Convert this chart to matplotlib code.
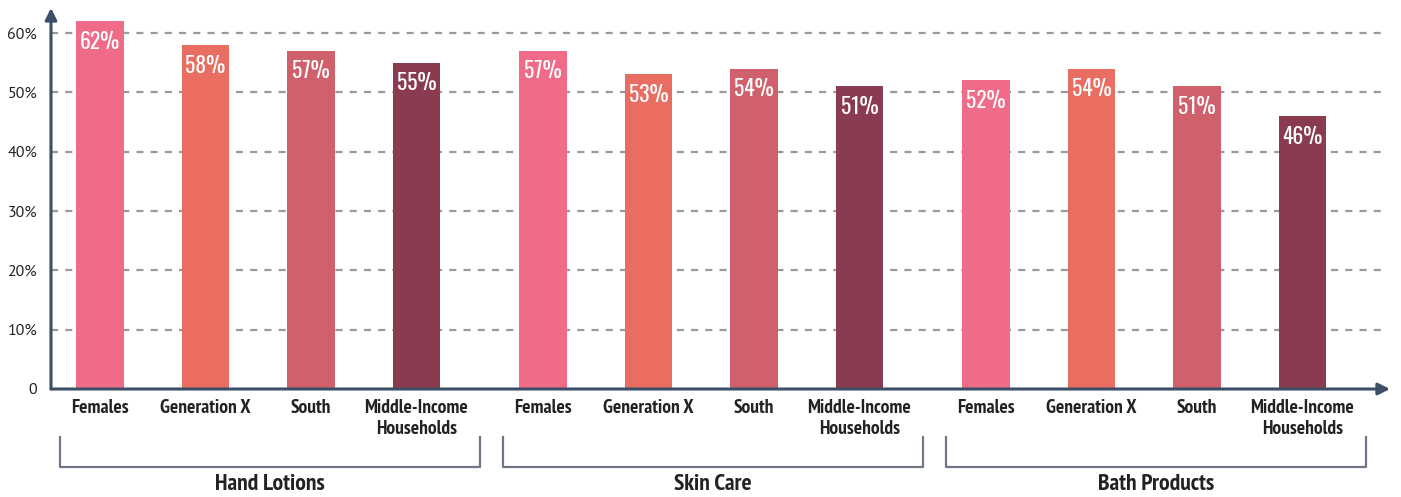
import matplotlib
matplotlib.use("Agg")
import matplotlib.pyplot as plt
from matplotlib import font_manager as fm

groups = ["Hand Lotions", "Skin Care", "Bath Products"]
segments = ["Females", "Generation X", "South", "Middle-Income\nHouseholds"]
values = {
    "Hand Lotions": [62, 58, 57, 55],
    "Skin Care": [57, 53, 54, 51],
    "Bath Products": [52, 54, 51, 46],
}
seg_colors = ["#F06B87", "#EA6D62", "#D0606B", "#8A3B50"]
y_ticks = [0, 10, 20, 30, 40, 50, 60]
y_tick_labels = ["0", "10%", "20%", "30%", "40%", "50%", "60%"]

available = {f.name for f in fm.fontManager.ttflist}


def pick(*families):
    found = [f for f in families if f in available]
    return found[:1] + ["DejaVu Sans"]


narrow_family = pick("PT Sans Narrow", "Roboto Condensed", "Archivo Narrow",
                     "Asap Condensed", "Liberation Sans Narrow", "Liberation Sans")
regular_family = pick("PT Sans", "Source Sans 3", "Source Sans Pro", "Liberation Sans")
value_family = pick("Oswald", "Antonio", "Bebas Neue", "Barlow Condensed",
                    "Roboto Condensed", "Liberation Sans")

axis_color = "#3D4F66"
text_color = "#222222"

fig = plt.figure(figsize=(14.01, 4.97), dpi=100)
W, H = 1401, 497
x0, x1 = 51, 1390
y0, y1 = 389, 8
ax = fig.add_axes([x0 / W, (H - y0) / H, (x1 - x0) / W, (y0 - y1) / H])

gap = 0.2
positions, heights, colors, labels = [], [], [], []
group_spans = []
for g, name in enumerate(groups):
    start = g * (len(segments) + gap)
    pos = [start + i for i in range(len(segments))]
    positions += pos
    heights += values[name]
    colors += seg_colors
    labels += segments
    group_spans.append((pos[0], pos[-1]))

bars = ax.bar(positions, heights, width=0.45, color=colors, zorder=2)

for b, v in zip(bars, heights):
    ax.annotate(f"{v}%", (b.get_x() + b.get_width() / 2, v),
                xytext=(0, -7), textcoords="offset points",
                ha="center", va="top", color="white", fontsize=15.5,
                fontweight="light", family=value_family, zorder=3)

ax.set_xlim(-0.464, 12.23)
ax.set_ylim(0, 64.2)

# dashed horizontal guides
for t in y_ticks[1:]:
    ax.plot([0, 0.993], [t, t], transform=ax.get_yaxis_transform(),
            color="#9A9A9A", lw=1.6, ls=(0, (3.2, 3.2)), zorder=1)

for s in ax.spines.values():
    s.set_visible(False)

ax.set_yticks(y_ticks)
ax.set_yticklabels(y_tick_labels, fontsize=11.5, color=text_color,
                   family=regular_family)
ax.tick_params(axis="y", length=0, pad=10)

ax.set_xticks(positions)
ax.set_xticklabels(labels, fontsize=14, fontweight="bold", color=text_color,
                   family=narrow_family, linespacing=1.2, va="top")
ax.tick_params(axis="x", length=0, pad=7)

# axis lines with arrowheads
ax.annotate("", xy=(0, 1.0), xytext=(0, 0), xycoords="axes fraction",
            arrowprops=dict(arrowstyle="-|>,head_length=0.7,head_width=0.35",
                            color=axis_color, lw=2.2, shrinkA=0, shrinkB=0))
ax.annotate("", xy=(1.0, 0), xytext=(0, 0), xycoords="axes fraction",
            arrowprops=dict(arrowstyle="-|>,head_length=0.7,head_width=0.35",
                            color=axis_color, lw=2.2, shrinkA=0, shrinkB=0))

# group brackets and titles
xt = ax.get_xaxis_transform()
yb_top, yb_bot, y_title = -0.126, -0.205, -0.251
for (a, b), name in zip(group_spans, groups):
    left, right = a - 0.38, b + 0.6
    ax.plot([left, left, right, right], [yb_top, yb_bot, yb_bot, yb_top],
            transform=xt, color="#6E7786", lw=1.6, clip_on=False)
    ax.text((left + right) / 2, y_title, name, transform=xt, ha="center",
            va="center", fontsize=17, fontweight="bold", color=text_color,
            family=narrow_family)

fig.savefig("out.png", dpi=100)
